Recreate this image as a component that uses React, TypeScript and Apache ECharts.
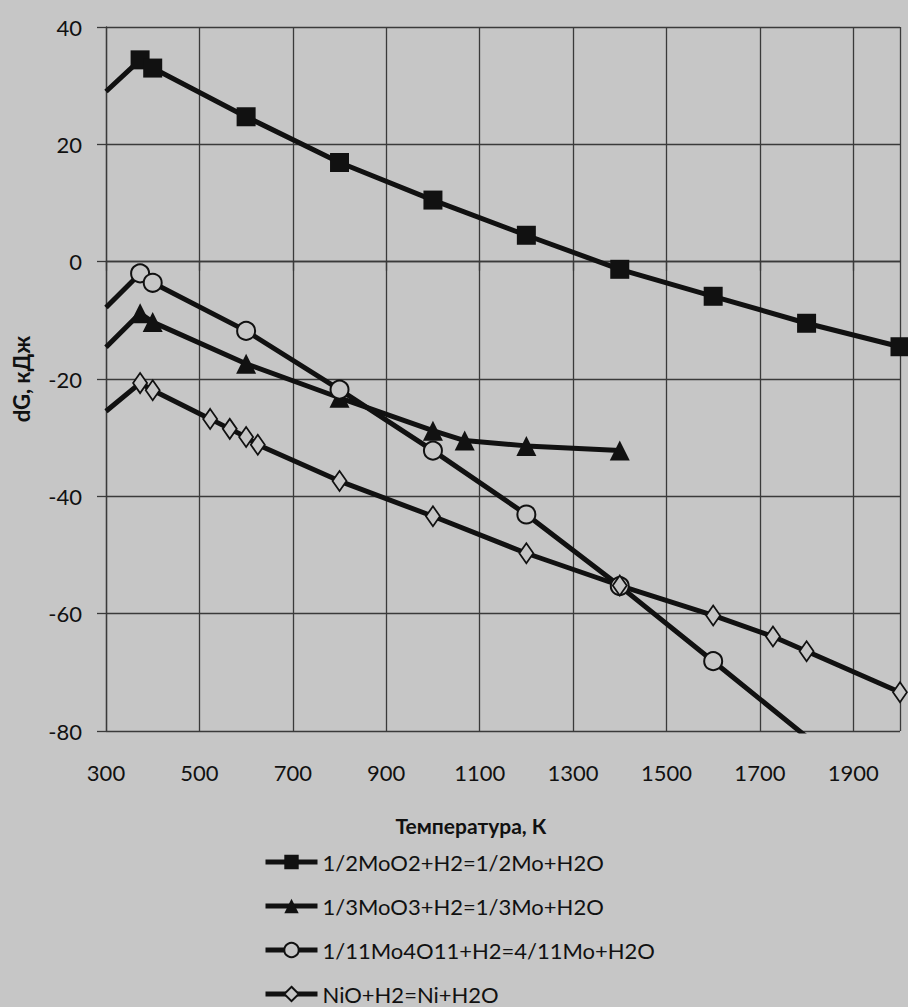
import React, { useEffect, useRef } from "react";
import * as echarts from "echarts";

// ---- Data ----
const seriesNames = [
  "1/2MoO2+H2=1/2Mo+H2O",
  "1/3MoO3+H2=1/3Mo+H2O",
  "1/11Mo4O11+H2=4/11Mo+H2O",
  "NiO+H2=Ni+H2O",
];

const moo2Temps = [300, 373, 400, 600, 800, 1000, 1200, 1400, 1600, 1800, 2000];
const moo2Values = [29.0, 34.4, 33.0, 24.7, 16.9, 10.5, 4.5, -1.3, -5.9, -10.5, -14.5];

const moo3Temps = [300, 373, 400, 600, 800, 1000, 1068, 1200, 1400];
const moo3Values = [-14.6, -8.8, -10.3, -17.4, -23.2, -28.8, -30.5, -31.4, -32.2];

const mo4o11Temps = [300, 373, 400, 600, 800, 1000, 1200, 1400, 1600, 1800];
const mo4o11Values = [-7.8, -2.0, -3.6, -11.8, -21.8, -32.2, -43.1, -55.3, -68.1, -81.0];

const nioTemps = [300, 373, 400, 523, 565, 600, 625, 800, 1000, 1200, 1400, 1600, 1728, 1800, 2000];
const nioValues = [-25.5, -20.7, -21.9, -26.8, -28.5, -29.9, -31.2, -37.4, -43.4, -49.7, -55.2, -60.3, -63.9, -66.4, -73.4];

const xAxisTitle = "Температура, К";
const yAxisTitle = "dG, кДж";

// ---- Styles ----
const BG = "#c6c6c6";
const INK = "#111111";
const GRIDC = "#3a3a3a";
const FONT = "Lato, 'Open Sans', sans-serif";

function buildData(temps: number[], values: number[]) {
  // first point (left edge) is drawn without a marker, as in the reference
  return temps.map((t, i) =>
    i === 0 ? { value: [t, values[i]], symbol: "none" } : { value: [t, values[i]] }
  );
}

export default function App() {
  const ref = useRef<HTMLDivElement>(null);

  useEffect(() => {
    if (!ref.current) return;
    const chart = echarts.init(ref.current, undefined, { renderer: "svg" });

    const common = {
      type: "line" as const,
      animation: false,
      clip: true,
      lineStyle: { color: INK, width: 5 },
      z: 3,
    };

    const option: any = {
      animation: false,
      backgroundColor: BG,
      textStyle: { fontFamily: FONT, color: INK },
      grid: { left: 106, right: 8, top: 27, bottom: 276, containLabel: false },
      xAxis: {
        type: "value",
        min: 300,
        max: 2000,
        interval: 200,
        name: xAxisTitle,
        nameLocation: "middle",
        nameGap: 84,
        nameTextStyle: {
          fontFamily: FONT,
          fontWeight: "bold",
          fontSize: 21,
          color: INK,
          padding: [0, 64, 0, 0],
        },
        axisLine: { show: true, lineStyle: { color: GRIDC, width: 1.3 } },
        axisTick: { show: true, length: 9, inside: false, lineStyle: { color: GRIDC, width: 1.3 } },
        axisLabel: {
          fontFamily: FONT,
          fontSize: 22,
          color: INK,
          margin: 30,
          showMaxLabel: false,
          formatter: (v: number) => String(v),
        },
        splitLine: { show: true, lineStyle: { color: GRIDC, width: 1.3 } },
      },
      yAxis: {
        type: "value",
        min: -80,
        max: 40,
        interval: 20,
        name: yAxisTitle,
        nameLocation: "middle",
        nameGap: 74,
        nameRotate: 90,
        nameTextStyle: {
          fontFamily: FONT,
          fontWeight: "bold",
          fontSize: 22,
          color: INK,
        },
        axisLine: { show: true, lineStyle: { color: GRIDC, width: 1.3 } },
        axisTick: { show: true, length: 9, inside: false, lineStyle: { color: GRIDC, width: 1.3 } },
        axisLabel: { fontFamily: FONT, fontSize: 22, color: INK, margin: 24 },
        splitLine: { show: true, lineStyle: { color: GRIDC, width: 1.3 } },
      },
      legend: {
        orient: "vertical",
        left: 263,
        top: 850,
        height: 157,
        padding: 0,
        itemWidth: 52,
        itemHeight: 18,
        itemGap: 20,
        lineStyle: { width: 5, color: INK },
        textStyle: { fontFamily: FONT, fontSize: 22, color: INK, lineHeight: 24 },
        data: seriesNames,
      },
      series: [
        {
          ...common,
          name: seriesNames[0],
          symbol: "rect",
          symbolSize: 19,
          itemStyle: { color: INK },
          data: buildData(moo2Temps, moo2Values),
        },
        {
          ...common,
          name: seriesNames[1],
          symbol: "triangle",
          symbolSize: 20,
          itemStyle: { color: INK },
          data: buildData(moo3Temps, moo3Values),
        },
        {
          ...common,
          name: seriesNames[2],
          symbol: "circle",
          symbolSize: 18,
          itemStyle: { color: BG, borderColor: INK, borderWidth: 2 },
          data: buildData(mo4o11Temps, mo4o11Values),
        },
        {
          ...common,
          name: seriesNames[3],
          symbol: "diamond",
          symbolSize: [14, 20],
          itemStyle: { color: BG, borderColor: INK, borderWidth: 1.8 },
          data: buildData(nioTemps, nioValues),
        },
      ],
    };

    chart.setOption(option);
    return () => chart.dispose();
  }, []);

  return (
    <div
      ref={ref}
      style={{ position: "absolute", left: 0, top: 0, width: 908, height: 1007, background: BG }}
    />
  );
}
